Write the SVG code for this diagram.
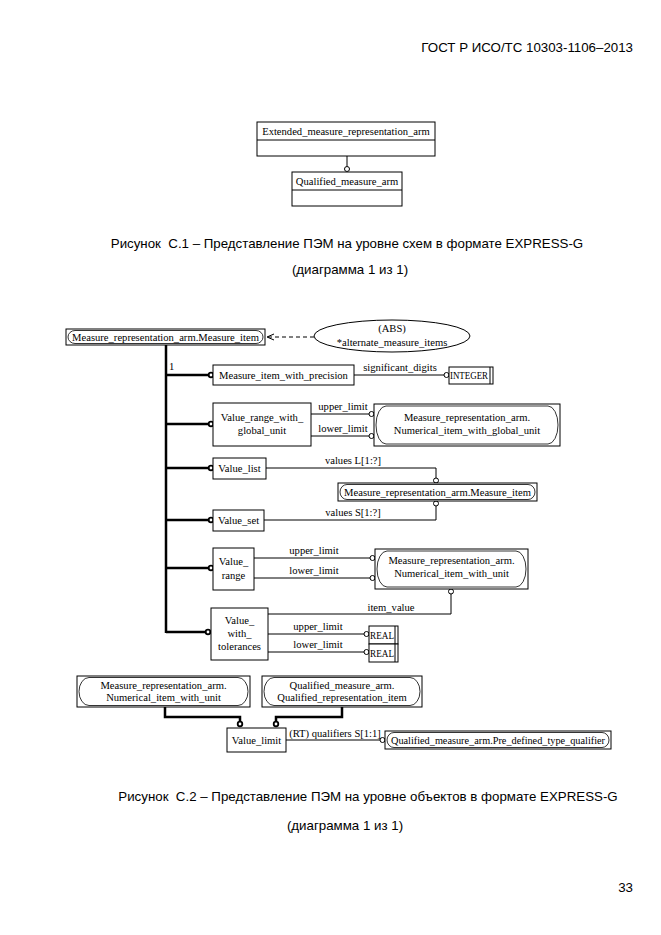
<svg xmlns="http://www.w3.org/2000/svg" width="661" height="935" viewBox="0 0 661 935">
<style>
.bg{fill:#fff}
.b{fill:#fff;stroke:#000;stroke-width:1}
.cap{fill:none;stroke:#000;stroke-width:0.8}
.t{font-family:"Liberation Serif","Times New Roman",serif;font-size:10.6px;fill:#000;text-anchor:middle}
.ts{text-anchor:start}
.s{font-family:"Liberation Sans",Arial,sans-serif;font-size:13.3px;fill:#000}
.ln{fill:none;stroke:#000;stroke-width:1}
.th{fill:none;stroke:#000;stroke-width:2.5}
.c{fill:#fff;stroke:#000;stroke-width:1}
.ct{fill:#fff;stroke:#000;stroke-width:1.8}
.dash{fill:none;stroke:#000;stroke-width:1;stroke-dasharray:4 3}
</style>
<rect class="bg" x="0" y="0" width="661" height="935"/>
<text class="s" x="633" y="52" text-anchor="end">ГОСТ Р ИСО/ТС 10303-1106–2013</text>

<g id="top-extended">
<rect class="b" x="257" y="122" width="178" height="34"/>
<line class="ln" x1="257" y1="140" x2="435" y2="140"/>
<text class="t" x="346" y="135">Extended_measure_representation_arm</text>
</g>
<g id="top-qualified">
<rect class="b" x="292" y="172" width="110" height="34"/>
<line class="ln" x1="292" y1="190" x2="402" y2="190"/>
<text class="t" x="347" y="185">Qualified_measure_arm</text>
</g>

<text class="s" x="347" y="248" text-anchor="middle">Рисунок&#160; С.1 – Представление ПЭМ на уровне схем в формате EXPRESS-G</text>
<text class="s" x="350" y="274" text-anchor="middle">(диаграмма 1 из 1)</text>

<g id="connectors">
<line class="ln" x1="347" y1="156" x2="347" y2="166.5"/>
<circle class="c" cx="347" cy="169" r="2.5"/>
<line class="dash" x1="314" y1="337" x2="268" y2="337"/>
<polyline class="ln" points="274,334 267,337 274,340"/>
<line class="th" x1="166" y1="345" x2="166" y2="633"/>
<line class="th" x1="166" y1="375" x2="209" y2="375"/>
<circle class="ct" cx="211" cy="375" r="2.3"/>
<line class="th" x1="166" y1="424" x2="209" y2="424"/>
<circle class="ct" cx="211" cy="424" r="2.3"/>
<line class="th" x1="166" y1="468" x2="209" y2="468"/>
<circle class="ct" cx="211" cy="468" r="2.3"/>
<line class="th" x1="166" y1="520" x2="209" y2="520"/>
<circle class="ct" cx="211" cy="520" r="2.3"/>
<line class="th" x1="166" y1="568" x2="209" y2="568"/>
<circle class="ct" cx="211" cy="568" r="2.3"/>
<line class="th" x1="166" y1="632" x2="206" y2="632"/>
<circle class="ct" cx="208" cy="632" r="2.3"/>
<line class="ln" x1="354" y1="375" x2="444" y2="375"/>
<circle class="c" cx="446.5" cy="375" r="2.5"/>
<line class="ln" x1="311" y1="414" x2="369" y2="414"/>
<circle class="c" cx="371.5" cy="414" r="2.5"/>
<line class="ln" x1="311" y1="436" x2="369" y2="436"/>
<circle class="c" cx="371.5" cy="436" r="2.5"/>
<polyline class="ln" points="266,468 436,468 436,478"/>
<circle class="c" cx="436" cy="480.5" r="2.5"/>
<polyline class="ln" points="264,520 436,520 436,506"/>
<circle class="c" cx="436" cy="503.5" r="2.5"/>
<line class="ln" x1="254" y1="558" x2="370" y2="558"/>
<circle class="c" cx="372.5" cy="558" r="2.5"/>
<line class="ln" x1="254" y1="578" x2="370" y2="578"/>
<circle class="c" cx="372.5" cy="578" r="2.5"/>
<polyline class="ln" points="268,614 451,614 451,594"/>
<circle class="c" cx="451" cy="591.5" r="2.5"/>
<line class="ln" x1="268" y1="634" x2="364" y2="634"/>
<circle class="c" cx="366.5" cy="634" r="2.5"/>
<line class="ln" x1="268" y1="652" x2="364" y2="652"/>
<circle class="c" cx="366.5" cy="652" r="2.5"/>
<polyline class="th" points="165,707 165,717 240,717 240,721"/>
<circle class="ct" cx="240" cy="724" r="2.3"/>
<polyline class="th" points="342,707 342,717 276,717 276,721"/>
<circle class="ct" cx="276" cy="724" r="2.3"/>
<line class="ln" x1="286" y1="740" x2="380" y2="740"/>
<circle class="c" cx="382.5" cy="740" r="2.5"/>
</g>

<g id="labels">
<text class="t ts" x="169" y="370">1</text>
<text class="t" x="400" y="371">significant_digits</text>
<text class="t" x="343" y="410">upper_limit</text>
<text class="t" x="343" y="432">lower_limit</text>
<text class="t" x="353" y="464">values L[1:?]</text>
<text class="t" x="353" y="516">values S[1:?]</text>
<text class="t" x="314" y="554">upper_limit</text>
<text class="t" x="314" y="574">lower_limit</text>
<text class="t" x="391" y="611">item_value</text>
<text class="t" x="318" y="630">upper_limit</text>
<text class="t" x="318" y="648">lower_limit</text>
<text class="t" x="335" y="737">(RT) qualifiers S[1:1]</text>
</g>

<g id="measure-item">
<rect class="b" x="66" y="329" width="199" height="16"/>
<rect class="cap" x="68" y="330.5" width="195" height="13" rx="7" ry="6.5"/>
<text class="t" x="165.5" y="341">Measure_representation_arm.Measure_item</text>
</g>
<g id="alternate-measure-items">
<ellipse class="b" cx="392" cy="336" rx="78" ry="16"/>
<text class="t" x="392" y="332">(ABS)</text>
<text class="t" x="392" y="346">*alternate_measure_items</text>
</g>
<g id="measure-item-with-precision">
<rect class="b" x="213" y="365" width="141" height="20"/>
<text class="t" x="283.5" y="379">Measure_item_with_precision</text>
</g>
<g id="integer">
<rect class="b" x="449" y="367" width="44" height="17"/>
<line class="ln" x1="490" y1="367" x2="490" y2="384"/>
<text class="t" x="469" y="379" textLength="38" lengthAdjust="spacingAndGlyphs">INTEGER</text>
</g>
<g id="value-range-with-global-unit">
<rect class="b" x="213" y="403" width="98" height="43"/>
<text class="t" x="262" y="421">Value_range_with_</text>
<text class="t" x="262" y="434">global_unit</text>
</g>
<g id="numerical-item-with-global-unit">
<rect class="b" x="374" y="404" width="186" height="42"/>
<rect class="cap" x="376" y="406" width="182" height="38" rx="10" ry="19"/>
<text class="t" x="467" y="421">Measure_representation_arm.</text>
<text class="t" x="467" y="434">Numerical_item_with_global_unit</text>
</g>
<g id="value-list">
<rect class="b" x="213" y="458" width="53" height="21"/>
<text class="t" x="239.5" y="472">Value_list</text>
</g>
<g id="measure-item-2">
<rect class="b" x="338" y="483" width="199" height="18"/>
<rect class="cap" x="340" y="484.5" width="195" height="15" rx="7" ry="7.5"/>
<text class="t" x="437.5" y="496">Measure_representation_arm.Measure_item</text>
</g>
<g id="value-set">
<rect class="b" x="213" y="510" width="51" height="21"/>
<text class="t" x="238.5" y="524">Value_set</text>
</g>
<g id="value-range">
<rect class="b" x="213" y="548" width="41" height="42"/>
<text class="t" x="233.5" y="565">Value_</text>
<text class="t" x="233.5" y="579">range</text>
</g>
<g id="numerical-item-with-unit">
<rect class="b" x="375" y="549" width="153" height="40"/>
<rect class="cap" x="377" y="551" width="149" height="36" rx="10" ry="18"/>
<text class="t" x="451.5" y="564">Measure_representation_arm.</text>
<text class="t" x="451.5" y="577">Numerical_item_with_unit</text>
</g>
<g id="value-with-tolerances">
<rect class="b" x="211" y="608" width="57" height="52"/>
<text class="t" x="239.5" y="624">Value_</text>
<text class="t" x="239.5" y="637">with_</text>
<text class="t" x="239.5" y="650">tolerances</text>
</g>
<g id="real-upper">
<rect class="b" x="369" y="626" width="29" height="18"/>
<line class="ln" x1="395" y1="626" x2="395" y2="644"/>
<text class="t" x="382" y="639" textLength="24" lengthAdjust="spacingAndGlyphs">REAL</text>
</g>
<g id="real-lower">
<rect class="b" x="369" y="644" width="29" height="18"/>
<line class="ln" x1="395" y1="644" x2="395" y2="662"/>
<text class="t" x="382" y="657" textLength="24" lengthAdjust="spacingAndGlyphs">REAL</text>
</g>
<g id="numerical-item-with-unit-2">
<rect class="b" x="77" y="676" width="173" height="31"/>
<rect class="cap" x="79" y="677.5" width="169" height="28" rx="10" ry="14"/>
<text class="t" x="163.5" y="689">Measure_representation_arm.</text>
<text class="t" x="163.5" y="701">Numerical_item_with_unit</text>
</g>
<g id="qualified-representation-item">
<rect class="b" x="262" y="676" width="160" height="31"/>
<rect class="cap" x="264" y="677.5" width="156" height="28" rx="10" ry="14"/>
<text class="t" x="342" y="689">Qualified_measure_arm.</text>
<text class="t" x="342" y="701">Qualified_representation_item</text>
</g>
<g id="value-limit">
<rect class="b" x="227" y="728" width="59" height="24"/>
<text class="t" x="256.5" y="744">Value_limit</text>
</g>
<g id="pre-defined-type-qualifier">
<rect class="b" x="385" y="731" width="226" height="18"/>
<rect class="cap" x="387" y="732.5" width="222" height="15" rx="7" ry="7.5"/>
<text class="t" x="498" y="744" textLength="214" lengthAdjust="spacingAndGlyphs">Qualified_measure_arm.Pre_defined_type_qualifier</text>
</g>

<text class="s" x="368" y="801" text-anchor="middle">Рисунок&#160; С.2 – Представление ПЭМ на уровне объектов в формате EXPRESS-G</text>
<text class="s" x="345" y="830" text-anchor="middle">(диаграмма 1 из 1)</text>
<text class="s" x="633" y="892" text-anchor="end">33</text>
</svg>
